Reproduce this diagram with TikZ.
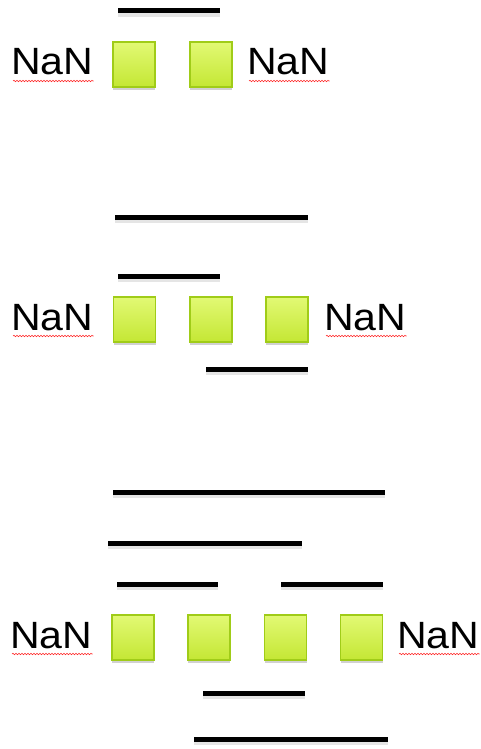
\documentclass[tikz,border=0pt]{standalone}
\usepackage{fontspec}
\setmainfont{Liberation Sans}
\usetikzlibrary{shadows,decorations.pathmorphing}
\definecolor{boxtop}{HTML}{E2F974}
\definecolor{boxbot}{HTML}{C4E734}
\definecolor{boxedge}{HTML}{A0CC18}
\tikzset{
  cell/.style={rectangle, minimum width=42pt, minimum height=45pt, inner sep=0pt,
    draw=boxedge, line width=1.3pt, top color=boxtop, bottom color=boxbot,
    drop shadow={shadow xshift=0pt, shadow yshift=-3pt, opacity=0.18, fill=black}},
  nan/.style={anchor=base west, inner sep=0pt, font=\fontsize{38}{38}\selectfont},
  spell/.style={draw=red!85!white, line width=0.6pt,
    decorate, decoration={snake, amplitude=0.7pt, segment length=3pt}},
  bar/.style={line width=5pt, black,
    preaction={draw, line width=6pt, black, opacity=0.10, transform canvas={yshift=-3pt}}},
}
\newcommand\nanword{\scalebox{1.08}[1]{NaN}}
\begin{document}
\begin{tikzpicture}[x=1pt, y=-1pt]
\useasboundingbox (0,0) rectangle (480,749);
% horizontal bars
\draw[bar] (118,11) -- (220,11);
\draw[bar] (115,217) -- (308,217);
\draw[bar] (118,276) -- (220,276);
\draw[bar] (206,369) -- (308,369);
\draw[bar] (113,492) -- (385,492);
\draw[bar] (108,543) -- (302,543);
\draw[bar] (117,584) -- (218,584);
\draw[bar] (281,584) -- (383,584);
\draw[bar] (203,693) -- (305,693);
\draw[bar] (194,739) -- (388,739);
% row one
\node[cell] (a1) at (134,64.5) {};
\node[cell] (a2) at (211,64.5) {};
\node[nan] (la) at (11,75) {\nanword};
\node[nan] (ra) at (247,75) {\nanword};
% row two
\node[cell] (b1) at (134.5,319.5) {};
\node[cell] (b2) at (211,319.5) {};
\node[cell] (b3) at (287,319.5) {};
\node[nan] (lb) at (11,330) {\nanword};
\node[nan] (rb) at (324,330) {\nanword};
% row three
\node[cell] (c1) at (133,637.5) {};
\node[cell] (c2) at (209,637.5) {};
\node[cell] (c3) at (285.5,637.5) {};
\node[cell] (c4) at (361.5,637.5) {};
\node[nan] (lc) at (10,648) {\nanword};
\node[nan] (rc) at (397,648) {\nanword};
% spell-check underlines
\foreach \n in {la,ra,lb,rb,lc,rc}{
  \draw[spell] ([xshift=2pt,yshift=-6pt]\n.base west) -- ([yshift=-6pt]\n.base east);
}
\end{tikzpicture}
\end{document}
